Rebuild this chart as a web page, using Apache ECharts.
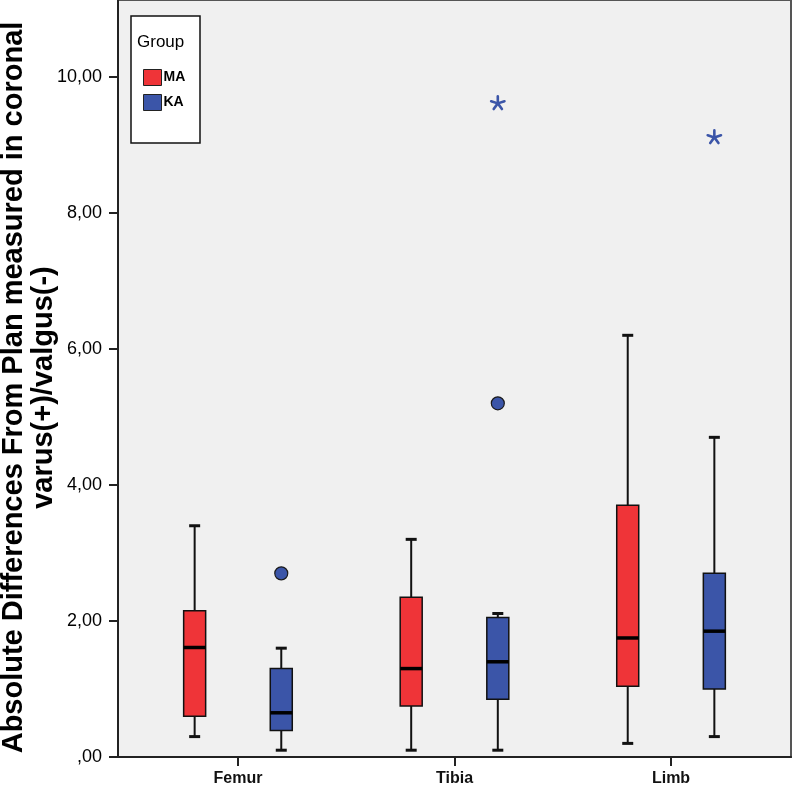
<!DOCTYPE html>
<html><head><meta charset="utf-8">
<script src="https://cdn.jsdelivr.net/npm/echarts@6/dist/echarts.min.js"></script>
<style>html,body{margin:0;padding:0;background:#fff}#c{width:793px;height:789px}</style>
</head><body><div id="c"></div>
<script>
const categories = ['Femur', 'Tibia', 'Limb'];
const groups = ['MA', 'KA'];
// [min, q1, median, q3, max]
const maStats = [[0.30, 0.60, 1.61, 2.15, 3.40], [0.10, 0.75, 1.30, 2.35, 3.20], [0.20, 1.04, 1.75, 3.70, 6.20]];
const kaStats = [[0.10, 0.39, 0.65, 1.30, 1.60], [0.10, 0.85, 1.40, 2.05, 2.11], [0.30, 1.00, 1.85, 2.70, 4.70]];
const kaOutliers = [[0, 2.70], [1, 5.20]];
const kaExtremes = [[1, 9.61], [2, 9.11]];
const yTicks = [0, 2, 4, 6, 8, 10];
const yTickLabels = [',00', '2,00', '4,00', '6,00', '8,00', '10,00'];
const yTitle = 'Absolute Differences From Plan measured in coronal\nvarus(+)/valgus(-)';

const RED = '#ef3438', BLUE = '#3b55a8';
const OFF = { MA: -0.2, KA: 0.2 };
const FONT = "'Liberation Sans', Arial, sans-serif";

function boxRender(offset) {
  return function (params, api) {
    const x = api.value(0) + offset;
    const pMin = api.coord([x, api.value(1)]);
    const pQ1 = api.coord([x, api.value(2)]);
    const pMed = api.coord([x, api.value(3)]);
    const pQ3 = api.coord([x, api.value(4)]);
    const pMax = api.coord([x, api.value(5)]);
    const cx = pMed[0], hw = 11, cw = 5.5;
    const col = api.visual('color');
    return { type: 'group', children: [
      { type: 'line', shape: { x1: cx, y1: pQ3[1], x2: cx, y2: pMax[1] }, style: { stroke: '#111', lineWidth: 2 } },
      { type: 'line', shape: { x1: cx, y1: pQ1[1], x2: cx, y2: pMin[1] }, style: { stroke: '#111', lineWidth: 2 } },
      { type: 'line', shape: { x1: cx - cw, y1: pMax[1], x2: cx + cw, y2: pMax[1] }, style: { stroke: '#111', lineWidth: 3 } },
      { type: 'line', shape: { x1: cx - cw, y1: pMin[1], x2: cx + cw, y2: pMin[1] }, style: { stroke: '#111', lineWidth: 3 } },
      { type: 'rect', shape: { x: cx - hw, y: pQ3[1], width: 2 * hw, height: pQ1[1] - pQ3[1] }, style: { fill: col, stroke: '#111', lineWidth: 1.5 } },
      { type: 'line', shape: { x1: cx - hw, y1: pMed[1], x2: cx + hw, y2: pMed[1] }, style: { stroke: '#000', lineWidth: 3.5 } }
    ] };
  };
}

function starRender(params, api) {
  const p = api.coord([api.value(0) + OFF.KA, api.value(1)]);
  const r = 7, children = [];
  for (let k = 0; k < 5; k++) {
    const a = -Math.PI / 2 + k * 2 * Math.PI / 5;
    children.push({ type: 'line', shape: { x1: p[0], y1: p[1], x2: p[0] + r * Math.cos(a), y2: p[1] + r * Math.sin(a) }, style: { stroke: BLUE, lineWidth: 2.6, lineCap: 'round' } });
  }
  return { type: 'group', children };
}

const chart = echarts.init(document.getElementById('c'), null, { renderer: 'canvas' });
chart.setOption({
  animation: false,
  textStyle: { fontFamily: FONT },
  grid: { left: 118, right: 2, top: 0, bottom: 32, containLabel: false, outerBoundsMode: 'none',
    show: true, backgroundColor: '#f0f0f0', borderColor: '#555', borderWidth: 2 },
  xAxis: {
    type: 'value', min: -0.554, max: 2.554,
    axisLine: { show: true, onZero: false, lineStyle: { color: '#222', width: 2 } },
    axisTick: { show: true, length: 9, customValues: [0, 1, 2], lineStyle: { color: '#222', width: 2 } },
    axisLabel: { customValues: [0, 1, 2], formatter: v => categories[Math.round(v)], fontSize: 16, fontWeight: 'bold', color: '#111', margin: 14 },
    splitLine: { show: false }
  },
  yAxis: {
    type: 'value', min: 0, max: 11.13,
    name: yTitle, nameLocation: 'middle', nameRotate: 90, nameGap: 59, nameMoveOverlap: false,
    nameTextStyle: { fontSize: 29, fontWeight: 'bold', color: '#000', lineHeight: 30, align: 'center', padding: [0, 18, 0, 0] },
    axisLine: { show: true, onZero: false, lineStyle: { color: '#222', width: 2 } },
    axisTick: { show: true, length: 9, customValues: yTicks, lineStyle: { color: '#222', width: 2 } },
    axisLabel: { customValues: yTicks, formatter: v => yTickLabels[yTicks.indexOf(Math.round(v))], fontSize: 18, color: '#000', margin: 16 },
    splitLine: { show: false }
  },
  legend: {
    data: groups, orient: 'vertical', left: 143, top: 69, itemWidth: 18, itemHeight: 16, itemGap: 8,
    icon: 'rect', padding: 0, z: 6,
    itemStyle: { borderColor: '#222', borderWidth: 1 },
    textStyle: { fontSize: 14, fontWeight: 'bold', color: '#000', padding: [0, 0, 0, -3] }
  },
  graphic: [
    { type: 'rect', z: 5, shape: { x: 131, y: 16, width: 69, height: 127 }, style: { fill: '#fff', stroke: '#111', lineWidth: 1.5 } },
    { type: 'text', z: 6, x: 137, y: 34, style: { text: 'Group', font: '17px ' + FONT, fill: '#000' } }
  ],
  series: [
    { name: 'MA', type: 'custom', renderItem: boxRender(OFF.MA), itemStyle: { color: RED }, encode: { x: 0, y: [1, 2, 3, 4, 5] },
      data: maStats.map((s, i) => [i, ...s]), z: 3 },
    { name: 'KA', type: 'custom', renderItem: boxRender(OFF.KA), itemStyle: { color: BLUE }, encode: { x: 0, y: [1, 2, 3, 4, 5] },
      data: kaStats.map((s, i) => [i, ...s]), z: 3 },
    { name: 'KA outliers', type: 'scatter', symbol: 'circle', symbolSize: 13,
      itemStyle: { color: BLUE, borderColor: '#1a1a1a', borderWidth: 1.2, opacity: 1 },
      data: kaOutliers.map(d => [d[0] + OFF.KA, d[1]]), z: 4 },
    { name: 'KA extremes', type: 'custom', renderItem: starRender, encode: { x: 0, y: 1 }, data: kaExtremes, z: 4 }
  ]
});
</script></body></html>
